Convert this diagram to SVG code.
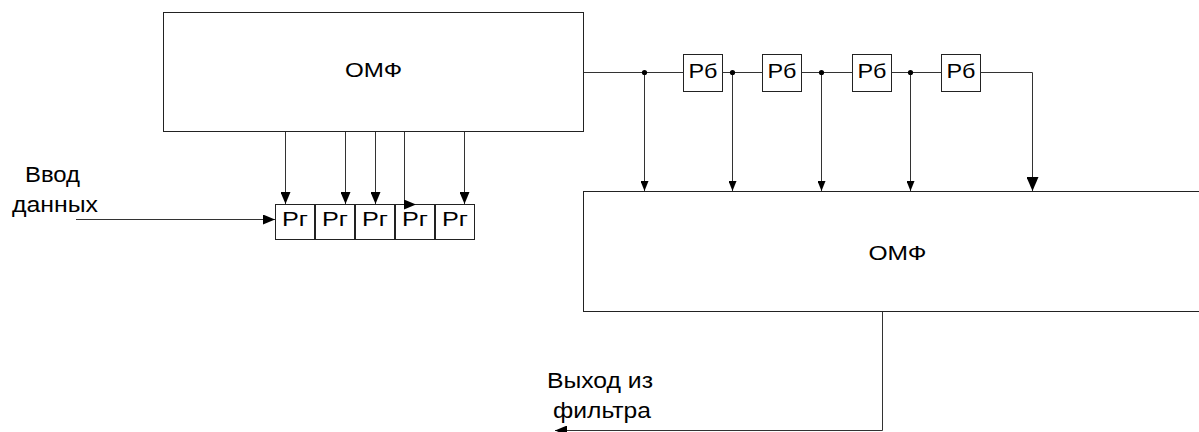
<svg xmlns="http://www.w3.org/2000/svg" width="1199" height="432" viewBox="0 0 1199 432">
  <style>
    .box { fill: #ffffff; stroke: #222222; stroke-width: 1; }
    .wire { fill: none; stroke: #333333; stroke-width: 1; }
    .lbl { font-family: "Liberation Sans", Arial, sans-serif; font-size: 22px; fill: #000000; }
    .reg { font-size: 21px; }
    .mid { text-anchor: middle; }
    .dot { fill: #000000; }
  </style>
  <defs>
    <marker id="arr" markerUnits="userSpaceOnUse" viewBox="0 0 12 10" markerWidth="12" markerHeight="10" refX="12" refY="5" orient="auto">
      <path d="M0,0 L12,5 L0,10 z" fill="#000"/>
    </marker>
    <marker id="arrS" markerUnits="userSpaceOnUse" viewBox="0 0 10 8" markerWidth="10" markerHeight="8" refX="10" refY="4" orient="auto">
      <path d="M0,0 L10,4 L0,8 z" fill="#000"/>
    </marker>
    <marker id="arrL" markerUnits="userSpaceOnUse" viewBox="0 0 14 12" markerWidth="14" markerHeight="12" refX="14" refY="6" orient="auto">
      <path d="M0,0 L14,6 L0,12 z" fill="#000"/>
    </marker>
  </defs>

  <!-- upper filter block -->
  <g id="omf-top">
    <rect class="box" x="163.5" y="12.5" width="420" height="119"/>
    <text class="lbl reg mid" x="373.5" y="77" textLength="57" lengthAdjust="spacingAndGlyphs">ОМФ</text>
  </g>

  <!-- lower filter block -->
  <g id="omf-bottom">
    <rect class="box" x="583.5" y="191.5" width="630" height="120"/>
    <text class="lbl reg mid" x="897.5" y="260" textLength="58" lengthAdjust="spacingAndGlyphs">ОМФ</text>
  </g>

  <!-- input register chain -->
  <g id="rg1"><rect class="box" x="275.5" y="204.5" width="39" height="35"/><text class="lbl reg mid" x="295" y="226" textLength="26" lengthAdjust="spacingAndGlyphs">Рг</text></g>
  <g id="rg2"><rect class="box" x="315.5" y="204.5" width="39" height="35"/><text class="lbl reg mid" x="335" y="226" textLength="26" lengthAdjust="spacingAndGlyphs">Рг</text></g>
  <g id="rg3"><rect class="box" x="355.5" y="204.5" width="39" height="35"/><text class="lbl reg mid" x="375" y="226" textLength="26" lengthAdjust="spacingAndGlyphs">Рг</text></g>
  <g id="rg4"><rect class="box" x="395.5" y="204.5" width="39" height="35"/><text class="lbl reg mid" x="415" y="226" textLength="26" lengthAdjust="spacingAndGlyphs">Рг</text></g>
  <g id="rg5"><rect class="box" x="435.5" y="204.5" width="39" height="35"/><text class="lbl reg mid" x="455" y="226" textLength="26" lengthAdjust="spacingAndGlyphs">Рг</text></g>

  <!-- delay registers on the output bus -->
  <g id="rb1"><rect class="box" x="683.5" y="54.5" width="39" height="37"/><text class="lbl reg mid" x="703" y="78" textLength="29" lengthAdjust="spacingAndGlyphs">Рб</text></g>
  <g id="rb2"><rect class="box" x="762.5" y="54.5" width="39" height="37"/><text class="lbl reg mid" x="782" y="78" textLength="29" lengthAdjust="spacingAndGlyphs">Рб</text></g>
  <g id="rb3"><rect class="box" x="852.5" y="54.5" width="39" height="37"/><text class="lbl reg mid" x="872" y="78" textLength="29" lengthAdjust="spacingAndGlyphs">Рб</text></g>
  <g id="rb4"><rect class="box" x="941.5" y="54.5" width="39" height="37"/><text class="lbl reg mid" x="961" y="78" textLength="29" lengthAdjust="spacingAndGlyphs">Рб</text></g>

  <!-- free labels -->
  <g id="input-label">
    <text class="lbl" x="25" y="182" textLength="55" lengthAdjust="spacingAndGlyphs">Ввод</text>
    <text class="lbl" x="12" y="212" textLength="86" lengthAdjust="spacingAndGlyphs">данных</text>
  </g>
  <g id="output-label">
    <text class="lbl" x="547" y="388" textLength="106" lengthAdjust="spacingAndGlyphs">Выход из</text>
    <text class="lbl" x="553" y="418" textLength="98" lengthAdjust="spacingAndGlyphs">фильтра</text>
  </g>

  <g id="connectors">
    <!-- data input -->
    <line class="wire" x1="76" y1="219.5" x2="275" y2="219.5" marker-end="url(#arr)"/>
    <!-- taps from upper block to registers -->
    <line class="wire" x1="285.5" y1="132" x2="285.5" y2="204" marker-end="url(#arr)"/>
    <line class="wire" x1="345.5" y1="132" x2="345.5" y2="204" marker-end="url(#arr)"/>
    <line class="wire" x1="375.5" y1="132" x2="375.5" y2="204" marker-end="url(#arr)"/>
    <path class="wire" d="M404.5 132 V204.5 H416" marker-end="url(#arr)"/>
    <line class="wire" x1="464.5" y1="132" x2="464.5" y2="204" marker-end="url(#arr)"/>

    <!-- bus through delay registers -->
    <line class="wire" x1="584" y1="72.5" x2="683.5" y2="72.5"/>
    <line class="wire" x1="722.5" y1="72.5" x2="762.5" y2="72.5"/>
    <line class="wire" x1="801.5" y1="72.5" x2="852.5" y2="72.5"/>
    <line class="wire" x1="891.5" y1="72.5" x2="941.5" y2="72.5"/>
    <path class="wire" d="M980.5 72.5 H1032.5 V191" marker-end="url(#arrL)"/>

    <!-- bus taps into lower block -->
    <line class="wire" x1="644.5" y1="72.5" x2="644.5" y2="191" marker-end="url(#arrS)"/>
    <line class="wire" x1="732.5" y1="72.5" x2="732.5" y2="191" marker-end="url(#arrS)"/>
    <line class="wire" x1="821.5" y1="72.5" x2="821.5" y2="191" marker-end="url(#arrS)"/>
    <line class="wire" x1="910.5" y1="72.5" x2="910.5" y2="191" marker-end="url(#arrS)"/>
    <circle class="dot" cx="644.5" cy="72.5" r="2.6"/>
    <circle class="dot" cx="732.5" cy="72.5" r="2.6"/>
    <circle class="dot" cx="821.5" cy="72.5" r="2.6"/>
    <circle class="dot" cx="910.5" cy="72.5" r="2.6"/>

    <!-- filter output -->
    <path class="wire" d="M882.5 312 V430.5 H555" marker-end="url(#arr)"/>
  </g>
</svg>
